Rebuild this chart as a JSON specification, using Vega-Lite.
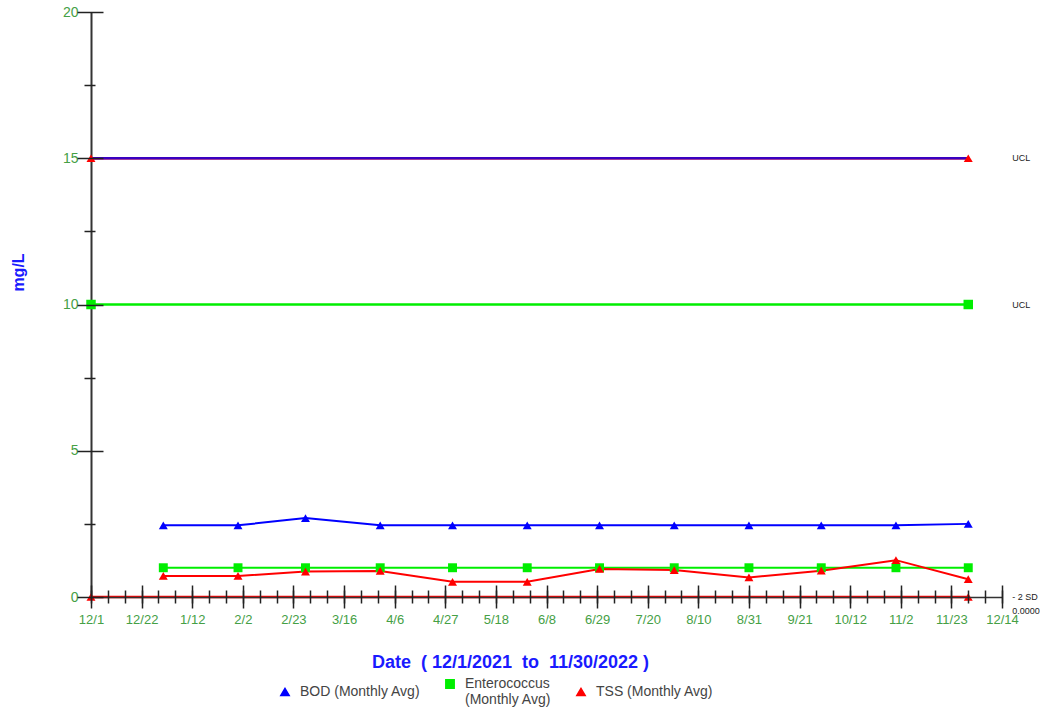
{
  "$schema": "https://vega.github.io/schema/vega-lite/v6.json",
  "width": 911,
  "height": 585,
  "autosize": {"type": "none"},
  "padding": {"left": 91, "top": 12, "right": 50, "bottom": 119},
  "background": "white",
  "config": {"view": {"stroke": null}, "font": "Liberation Sans"},
  "datasets": {
    "monthly": [
      {"date": "2021-12-31", "series": "BOD (Monthly Avg)", "value": 2.45},
      {"date": "2022-01-31", "series": "BOD (Monthly Avg)", "value": 2.45},
      {"date": "2022-02-28", "series": "BOD (Monthly Avg)", "value": 2.7},
      {"date": "2022-03-31", "series": "BOD (Monthly Avg)", "value": 2.45},
      {"date": "2022-04-30", "series": "BOD (Monthly Avg)", "value": 2.45},
      {"date": "2022-05-31", "series": "BOD (Monthly Avg)", "value": 2.45},
      {"date": "2022-06-30", "series": "BOD (Monthly Avg)", "value": 2.45},
      {"date": "2022-07-31", "series": "BOD (Monthly Avg)", "value": 2.45},
      {"date": "2022-08-31", "series": "BOD (Monthly Avg)", "value": 2.45},
      {"date": "2022-09-30", "series": "BOD (Monthly Avg)", "value": 2.45},
      {"date": "2022-10-31", "series": "BOD (Monthly Avg)", "value": 2.45},
      {"date": "2022-11-30", "series": "BOD (Monthly Avg)", "value": 2.5},
      {"date": "2021-12-31", "series": "Enterococcus (Monthly Avg)", "value": 1.0},
      {"date": "2022-01-31", "series": "Enterococcus (Monthly Avg)", "value": 1.0},
      {"date": "2022-02-28", "series": "Enterococcus (Monthly Avg)", "value": 1.0},
      {"date": "2022-03-31", "series": "Enterococcus (Monthly Avg)", "value": 1.0},
      {"date": "2022-04-30", "series": "Enterococcus (Monthly Avg)", "value": 1.0},
      {"date": "2022-05-31", "series": "Enterococcus (Monthly Avg)", "value": 1.0},
      {"date": "2022-06-30", "series": "Enterococcus (Monthly Avg)", "value": 1.0},
      {"date": "2022-07-31", "series": "Enterococcus (Monthly Avg)", "value": 1.0},
      {"date": "2022-08-31", "series": "Enterococcus (Monthly Avg)", "value": 1.0},
      {"date": "2022-09-30", "series": "Enterococcus (Monthly Avg)", "value": 1.0},
      {"date": "2022-10-31", "series": "Enterococcus (Monthly Avg)", "value": 1.0},
      {"date": "2022-11-30", "series": "Enterococcus (Monthly Avg)", "value": 1.0},
      {"date": "2021-12-31", "series": "TSS (Monthly Avg)", "value": 0.72},
      {"date": "2022-01-31", "series": "TSS (Monthly Avg)", "value": 0.72},
      {"date": "2022-02-28", "series": "TSS (Monthly Avg)", "value": 0.87},
      {"date": "2022-03-31", "series": "TSS (Monthly Avg)", "value": 0.89},
      {"date": "2022-04-30", "series": "TSS (Monthly Avg)", "value": 0.52},
      {"date": "2022-05-31", "series": "TSS (Monthly Avg)", "value": 0.52},
      {"date": "2022-06-30", "series": "TSS (Monthly Avg)", "value": 0.96},
      {"date": "2022-07-31", "series": "TSS (Monthly Avg)", "value": 0.92},
      {"date": "2022-08-31", "series": "TSS (Monthly Avg)", "value": 0.67},
      {"date": "2022-09-30", "series": "TSS (Monthly Avg)", "value": 0.9},
      {"date": "2022-10-31", "series": "TSS (Monthly Avg)", "value": 1.26},
      {"date": "2022-11-30", "series": "TSS (Monthly Avg)", "value": 0.61}
    ],
    "limits": [
      {"date": "2021-12-01", "series": "TSS (Monthly Avg)", "limit": "TSS -2SD", "value": 0},
      {"date": "2022-11-30", "series": "TSS (Monthly Avg)", "limit": "TSS -2SD", "value": 0},
      {"date": "2021-12-01", "series": "Enterococcus (Monthly Avg)", "limit": "Enterococcus UCL", "value": 10},
      {"date": "2022-11-30", "series": "Enterococcus (Monthly Avg)", "limit": "Enterococcus UCL", "value": 10},
      {"date": "2021-12-01", "series": "TSS (Monthly Avg)", "limit": "TSS UCL", "value": 15},
      {"date": "2022-11-30", "series": "TSS (Monthly Avg)", "limit": "TSS UCL", "value": 15},
      {"date": "2021-12-01", "series": "BOD (Monthly Avg)", "limit": "BOD UCL", "value": 15},
      {"date": "2022-11-30", "series": "BOD (Monthly Avg)", "limit": "BOD UCL", "value": 15}
    ],
    "notes": [
      {"date": "2022-11-30", "value": 15, "label": "UCL"},
      {"date": "2022-11-30", "value": 10, "label": "UCL"},
      {"date": "2022-11-30", "value": 0, "label": "- 2 SD"}
    ]
  },
  "resolve": {"axis": {"x": "independent", "y": "independent"}},
  "layer": [
    {
      "data": {"name": "limits"},
      "mark": {"type": "line", "strokeWidth": 2.5},
      "encoding": {
        "x": {
          "field": "date", "type": "temporal",
          "scale": {"type": "utc", "domain": [1638316800000, 1670976000000]},
          "axis": {
            "orient": "bottom",
            "values": [1638316800000, 1640131200000, 1641945600000, 1643760000000, 1645574400000, 1647388800000, 1649203200000, 1651017600000, 1652832000000, 1654646400000, 1656460800000, 1658275200000, 1660089600000, 1661904000000, 1663718400000, 1665532800000, 1667347200000, 1669161600000, 1670976000000],
            "format": "%-m/%-d",
            "ticks": false, "tickSize": 0, "grid": false,
            "labelPadding": 16, "labelFontSize": 13, "labelColor": "#45a045",
            "labelFlush": false, "labelOverlap": false, "labelFont": "Liberation Sans",
            "domain": true, "domainColor": "#333333", "domainWidth": 1.5,
            "zindex": 1,
            "title": "Date\u00a0\u00a0(\u00a012/1/2021\u00a0\u00a0to\u00a0\u00a011/30/2022\u00a0)",
            "titleFontSize": 18, "titleFontWeight": "bold", "titleColor": "#1a1aff",
            "titleFont": "Liberation Sans",
            "titleX": 419, "titleY": 56, "titleAlign": "center", "titleBaseline": "top"
          }
        },
        "y": {
          "field": "value", "type": "quantitative",
          "scale": {"domain": [0, 20], "nice": false, "zero": true},
          "axis": {
            "orient": "left",
            "values": [0, 5, 10, 15, 20],
            "ticks": false, "tickSize": 0, "grid": false,
            "labelPadding": 13, "labelFontSize": 14, "labelColor": "#45a045",
            "labelFont": "Liberation Sans", "labelOverlap": false, "labelFlush": false,
            "domain": true, "domainColor": "#333333", "domainWidth": 2,
            "title": "mg/L", "titleFontSize": 16, "titleFontWeight": "bold", "titleColor": "#1a1aff",
            "titleFont": "Liberation Sans",
            "titleX": -73, "titleY": 260, "titleAngle": -90, "titleAlign": "center", "titleBaseline": "middle"
          }
        },
        "stroke": {
          "field": "series", "type": "nominal",
          "scale": {"range": ["#3a00c0", "#00ee00", "#ff0000"]},
          "legend": null
        },
        "detail": {"field": "limit", "type": "nominal"}
      }
    },
    {
      "data": {"name": "limits"},
      "transform": [{"filter": "datum.series == 'TSS (Monthly Avg)'"}],
      "mark": {"type": "point", "filled": true, "opacity": 1, "size": 80, "shape": "triangle-up", "color": "#ff0000"},
      "encoding": {
        "x": {
          "field": "date", "type": "temporal",
          "axis": {
            "orient": "bottom",
            "values": [1638316800000, 1640131200000, 1641945600000, 1643760000000, 1645574400000, 1647388800000, 1649203200000, 1651017600000, 1652832000000, 1654646400000, 1656460800000, 1658275200000, 1660089600000, 1661904000000, 1663718400000, 1665532800000, 1667347200000, 1669161600000, 1670976000000],
            "tickSize": 23, "offset": -12, "tickColor": "#222222", "tickWidth": 1.5,
            "labels": false, "domain": false, "grid": false, "title": null, "zindex": 2
          }
        },
        "y": {
          "field": "value", "type": "quantitative",
          "axis": {
            "orient": "left",
            "values": [0, 5, 10, 15, 20],
            "tickSize": 26, "offset": -12, "tickColor": "#222222", "tickWidth": 1.5,
            "labels": false, "domain": false, "grid": false, "title": null, "zindex": 2
          }
        }
      }
    },
    {
      "data": {"name": "limits"},
      "transform": [{"filter": "datum.series == 'Enterococcus (Monthly Avg)'"}],
      "mark": {"type": "point", "filled": true, "opacity": 1, "size": 90, "shape": "square", "color": "#00ee00"},
      "encoding": {
        "x": {"field": "date", "type": "temporal", "axis": null},
        "y": {"field": "value", "type": "quantitative", "axis": null}
      }
    },
    {
      "data": {"name": "monthly"},
      "mark": {"type": "line", "strokeWidth": 2},
      "encoding": {
        "x": {
          "field": "date", "type": "temporal",
          "axis": {
            "orient": "bottom",
            "values": [1638316800000, 1638921600000, 1639526400000, 1640131200000, 1640736000000, 1641340800000, 1641945600000, 1642550400000, 1643155200000, 1643760000000, 1644364800000, 1644969600000, 1645574400000, 1646179200000, 1646784000000, 1647388800000, 1647993600000, 1648598400000, 1649203200000, 1649808000000, 1650412800000, 1651017600000, 1651622400000, 1652227200000, 1652832000000, 1653436800000, 1654041600000, 1654646400000, 1655251200000, 1655856000000, 1656460800000, 1657065600000, 1657670400000, 1658275200000, 1658880000000, 1659484800000, 1660089600000, 1660694400000, 1661299200000, 1661904000000, 1662508800000, 1663113600000, 1663718400000, 1664323200000, 1664928000000, 1665532800000, 1666137600000, 1666742400000, 1667347200000, 1667952000000, 1668556800000, 1669161600000, 1669766400000, 1670371200000, 1670976000000],
            "tickSize": 13, "offset": -7, "tickColor": "#222222", "tickWidth": 1.5,
            "labels": false, "domain": false, "grid": false, "title": null, "zindex": 2
          }
        },
        "y": {
          "field": "value", "type": "quantitative",
          "axis": {
            "orient": "left",
            "values": [2.5, 7.5, 12.5, 17.5],
            "tickSize": 11, "offset": -4, "tickColor": "#222222", "tickWidth": 1.5,
            "labels": false, "domain": false, "grid": false, "title": null, "zindex": 2
          }
        },
        "color": {
          "field": "series", "type": "nominal",
          "scale": {"domain": ["BOD (Monthly Avg)", "Enterococcus (Monthly Avg)", "TSS (Monthly Avg)"], "range": ["#0000ff", "#00ee00", "#ff0000"]},
          "legend": {
            "orient": "none", "legendX": 187, "legendY": 665, "direction": "horizontal",
            "title": null, "padding": 0, "columnPadding": 21,
            "labelFont": "Liberation Sans", "labelFontSize": 14, "labelColor": "#444444",
            "labelLimit": 300, "symbolSize": 70, "labelOffset": 8,
            "labelExpr": "indexof(datum.label, 'Enterococcus') == 0 ? ['Enterococcus', '(Monthly Avg)'] : datum.label"
          }
        }
      }
    },
    {
      "data": {"name": "monthly"},
      "mark": {"type": "point", "filled": true, "opacity": 1, "size": 80},
      "encoding": {
        "x": {"field": "date", "type": "temporal", "axis": null},
        "y": {"field": "value", "type": "quantitative", "axis": null},
        "color": {"field": "series", "type": "nominal"},
        "shape": {
          "field": "series", "type": "nominal",
          "scale": {"domain": ["BOD (Monthly Avg)", "Enterococcus (Monthly Avg)", "TSS (Monthly Avg)"], "range": ["triangle-up", "square", "triangle-up"]},
          "legend": {
            "orient": "none", "legendX": 187, "legendY": 665, "direction": "horizontal",
            "title": null, "padding": 0, "columnPadding": 21,
            "labelFont": "Liberation Sans", "labelFontSize": 14, "labelColor": "#444444",
            "labelLimit": 300, "symbolSize": 70, "labelOffset": 8,
            "labelExpr": "indexof(datum.label, 'Enterococcus') == 0 ? ['Enterococcus', '(Monthly Avg)'] : datum.label"
          }
        }
      }
    },
    {
      "data": {"name": "notes"},
      "mark": {"type": "text", "align": "left", "baseline": "middle", "dx": 44, "fontSize": 9, "color": "#222222", "font": "Liberation Sans"},
      "encoding": {
        "x": {"field": "date", "type": "temporal", "axis": null},
        "y": {"field": "value", "type": "quantitative", "axis": null},
        "text": {"field": "label", "type": "nominal"}
      }
    },
    {
      "data": {"name": "notes"},
      "transform": [{"filter": "datum.label == '- 2 SD'"}],
      "mark": {"type": "text", "align": "left", "baseline": "middle", "dx": 44, "dy": 14, "fontSize": 9, "color": "#222222", "font": "Liberation Sans"},
      "encoding": {
        "x": {"field": "date", "type": "temporal", "axis": null},
        "y": {"field": "value", "type": "quantitative", "axis": null},
        "text": {"field": "value", "type": "quantitative", "format": ".4f"}
      }
    }
  ]
}
